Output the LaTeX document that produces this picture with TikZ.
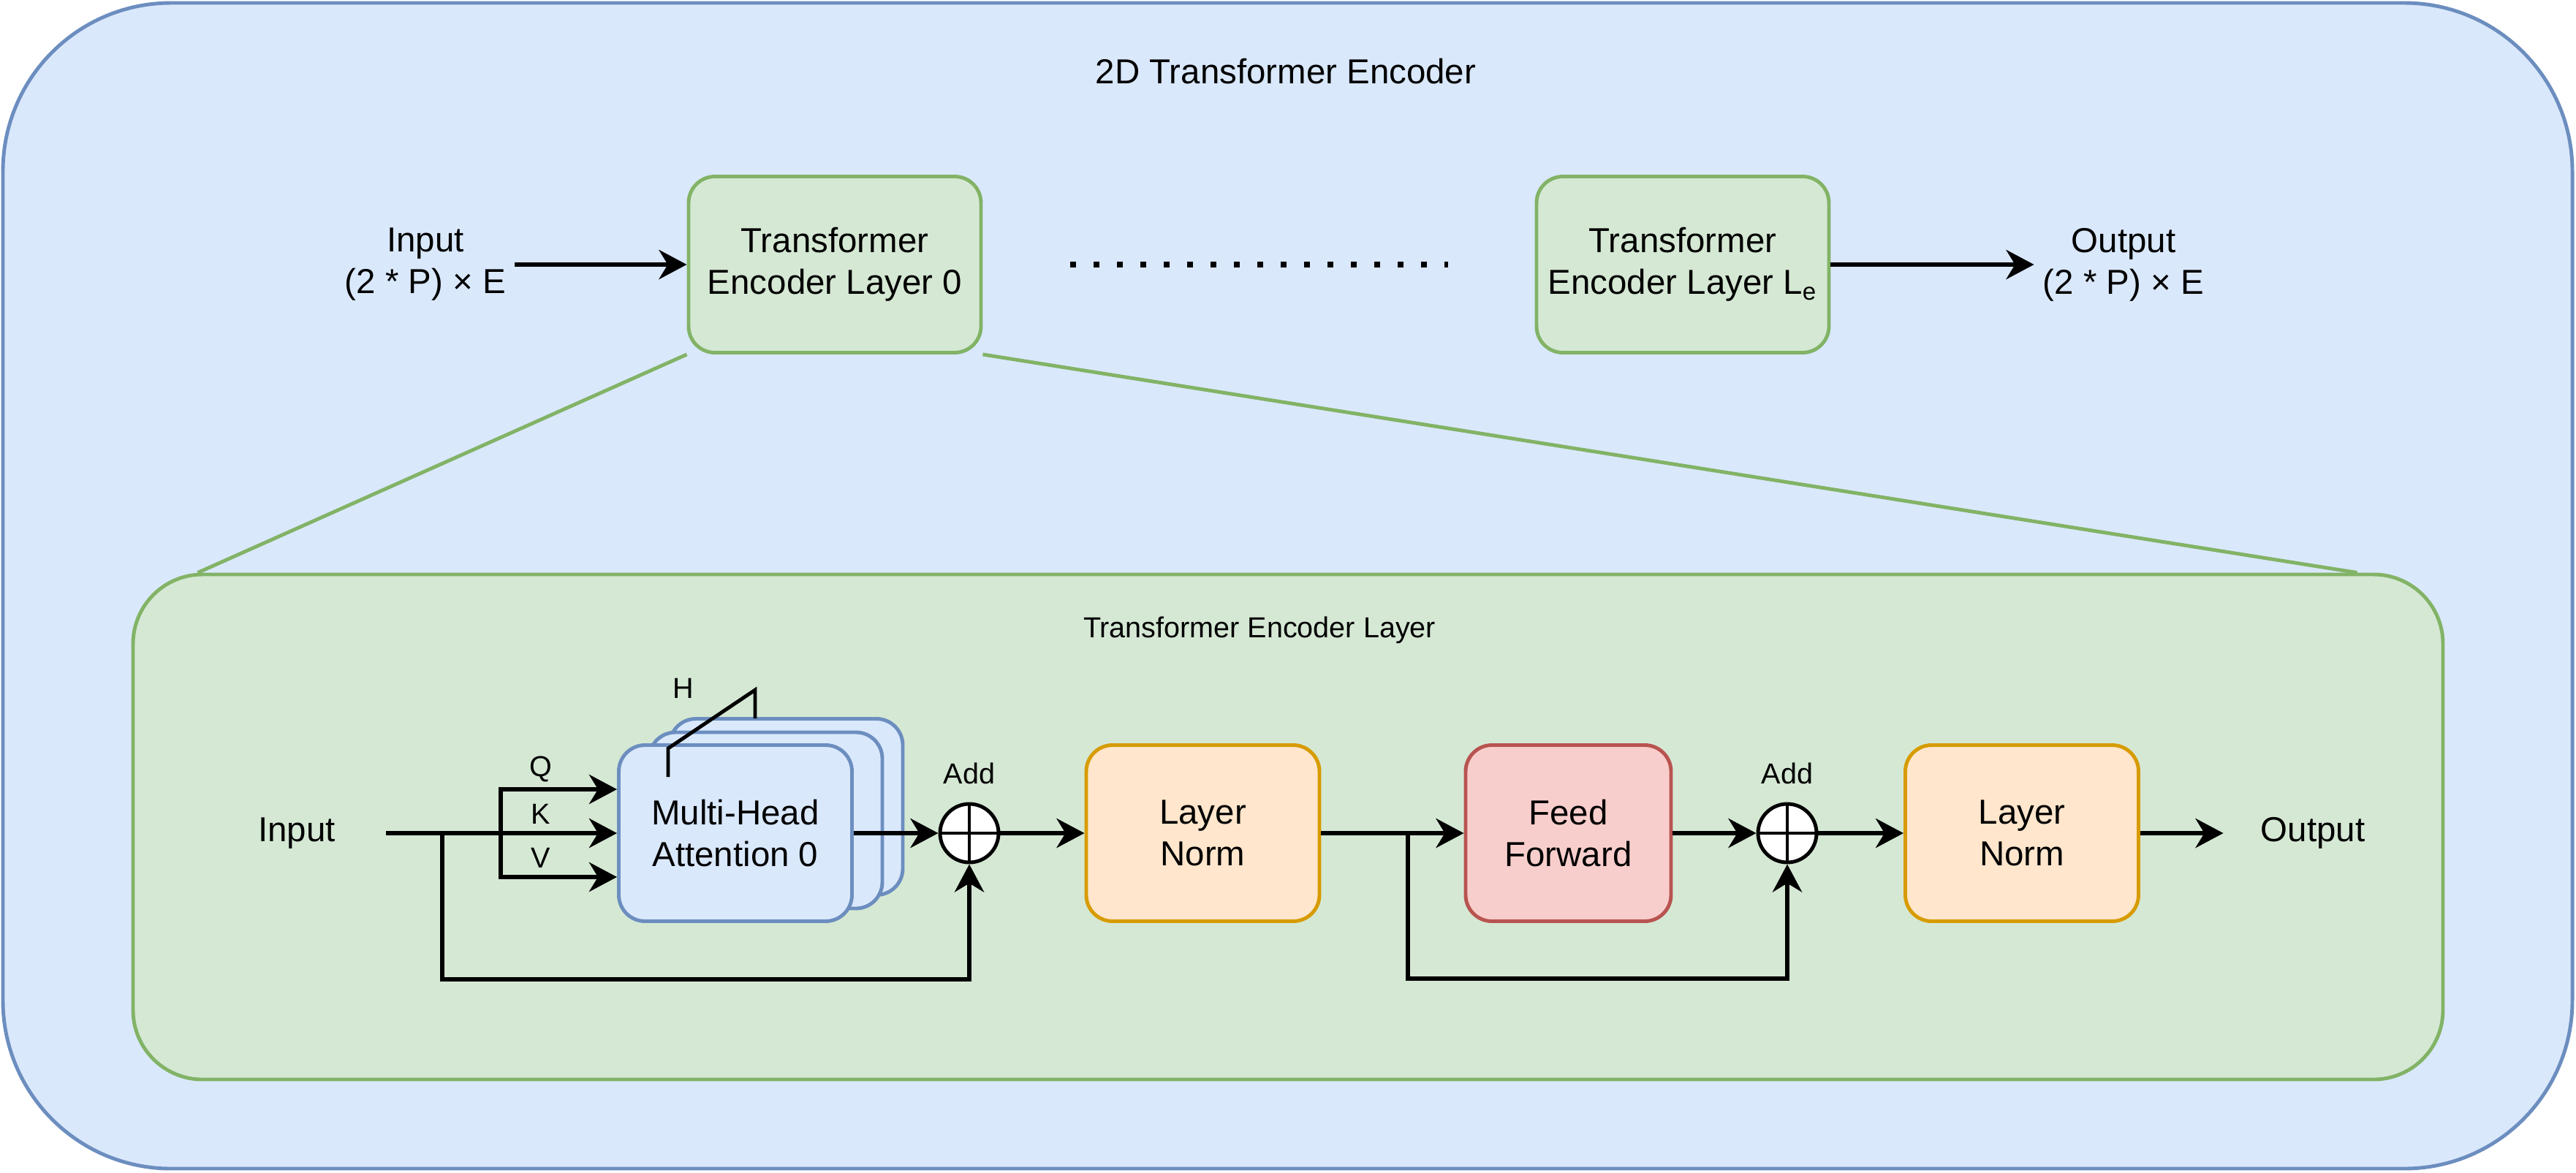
\documentclass[tikz,border=0pt]{standalone}
\usepackage{fontspec}
\setmainfont{Liberation Sans}
\usepackage{tikz}
\usetikzlibrary{positioning,arrows.meta,calc}
\usepackage{xcolor}
\definecolor{encfill}{HTML}{DAE8FC}
\definecolor{encdraw}{HTML}{6C8EBF}
\definecolor{layfill}{HTML}{D5E8D4}
\definecolor{laydraw}{HTML}{82B366}
\definecolor{normfill}{HTML}{FFE6CC}
\definecolor{normdraw}{HTML}{D79B00}
\definecolor{fffill}{HTML}{F8CECC}
\definecolor{ffdraw}{HTML}{B85450}
\pgfdeclarelayer{back}
\pgfdeclarelayer{links}
\pgfsetlayers{back,links,main}

\begin{document}
\begin{tikzpicture}[every path/.append style={line width=1.4pt},
	font=\fontsize{13.5pt}{16.2pt}\selectfont,
	small/.style={font=\fontsize{11.25pt}{13.5pt}\selectfont, inner sep=0pt},
	lbl/.style={inner sep=0pt, minimum width=2.4cm, align=center},
	blk/.style={rectangle, rounded corners=0.36cm, inner sep=0pt, align=center, minimum height=2.41cm},
	tel/.style={blk, fill=layfill, draw=laydraw, minimum width=4cm},
	mha/.style={blk, fill=encfill, draw=encdraw, minimum width=3.19cm},
	norm/.style={blk, fill=normfill, draw=normdraw, minimum width=3.19cm},
	ffn/.style={blk, fill=fffill, draw=ffdraw, minimum width=2.81cm},
	addop/.style={circle, draw, fill=white, minimum size=0.80cm, inner sep=0pt},
	arr/.style={line width=1.9pt, -{Stealth[length=0.38cm,width=0.40cm,inset=0.12cm]}},
	dots/.style={line width=0.08cm, dash pattern=on 0.08cm off 0.24cm}]
\useasboundingbox (0,0) rectangle (35.24,-16.04);

% frames
\begin{pgfonlayer}{back}
\node[fill=encfill, draw=encdraw, rounded corners=2.3cm, minimum width=35.15cm, minimum height=15.95cm] (enc) at (17.615,-8.015) {};
\node[fill=layfill, draw=laydraw, rounded corners=0.95cm, minimum width=31.6cm, minimum height=6.91cm] (layer) at (17.62,-11.315) {};
\end{pgfonlayer}

% top row
\node (title) at (17.59,-0.98) {2D Transformer Encoder};
\node[lbl] (inTop) at (5.82,-3.62) {Input\\(2 * P) × E};
\node[tel] (tel0) at (11.42,-3.62) {Transformer\\Encoder Layer 0};
\node[tel] (tele) at (23.02,-3.62) {Transformer\\Encoder Layer L\textsubscript{e}};
\node[lbl] (outTop) at (29.05,-3.62) {Output\\(2 * P) × E};

\draw[arr] (inTop.east) -- (tel0.west);
\draw[dots, shorten <=1.2cm, shorten >=1.19cm] (tel0.east) -- (tele.west);
\draw[arr] (tele.east) -- (outTop.west);

\begin{pgfonlayer}{links}
\draw[laydraw] (tel0.south west) -- ($(layer.north west)+(0.91,0)$);
\draw[laydraw] (tel0.south east) -- ($(layer.north east)+(-1.2,0)$);
\end{pgfonlayer}

% encoder layer
\node[small] (layTitle) at (17.23,-8.62) {Transformer Encoder Layer};
\node[lbl] (inLow) at (4.06,-11.40) {Input};
\node[mha] (mha2) at (10.755,-11.04) {};
\node[mha] (mha1) at (10.475,-11.225) {};
\node[mha] (mha0) at (10.06,-11.40) {Multi-Head\\Attention 0};
\node[small] (hLbl) at (9.35,-9.42) {H};
\node[small] (qLbl) at (7.40,-10.52) {Q};
\node[small] (kLbl) at (7.40,-11.14) {K};
\node[small] (vLbl) at (7.40,-11.74) {V};
\node[addop] (add1) at (13.26,-11.40) {};
\node[small, above=0.22cm of add1] (add1Lbl) {Add};
\node[norm] (ln1) at (16.455,-11.40) {Layer\\Norm};
\node[ffn] (ffn) at (21.455,-11.40) {Feed\\Forward};
\node[addop] (add2) at (24.45,-11.40) {};
\node[small, above=0.22cm of add2] (add2Lbl) {Add};
\node[norm] (ln2) at (27.66,-11.40) {Layer\\Norm};
\node[lbl] (outLow) at (31.64,-11.40) {Output};

\draw (add1.north) -- (add1.south) (add1.west) -- (add1.east);
\draw (add2.north) -- (add2.south) (add2.west) -- (add2.east);
\draw (9.14,-10.63) -- (9.14,-10.24) -- (10.33,-9.44) -- (10.33,-9.83);

\coordinate (fork1) at (6.85,-11.40);
\coordinate (skip1) at (6.05,-11.40);
\coordinate (skip2) at (19.26,-11.40);

\draw[arr] (inLow.east) -- (mha0.west);
\draw[arr] (fork1) |- ($(mha0.west)+(0,0.6)$);
\draw[arr] (fork1) |- ($(mha0.west)+(0,-0.6)$);
\draw[arr] (skip1) -- ++(0,-2.0) -| (add1.south);
\draw[arr] (mha0.east) -- (add1.west);
\draw[arr] (add1.east) -- (ln1.west);
\draw[arr] (ln1.east) -- (ffn.west);
\draw[arr] (skip2) -- ++(0,-1.99) -| (add2.south);
\draw[arr] (ffn.east) -- (add2.west);
\draw[arr] (add2.east) -- (ln2.west);
\draw[arr] (ln2.east) -- (outLow.west);
\end{tikzpicture}
\end{document}
